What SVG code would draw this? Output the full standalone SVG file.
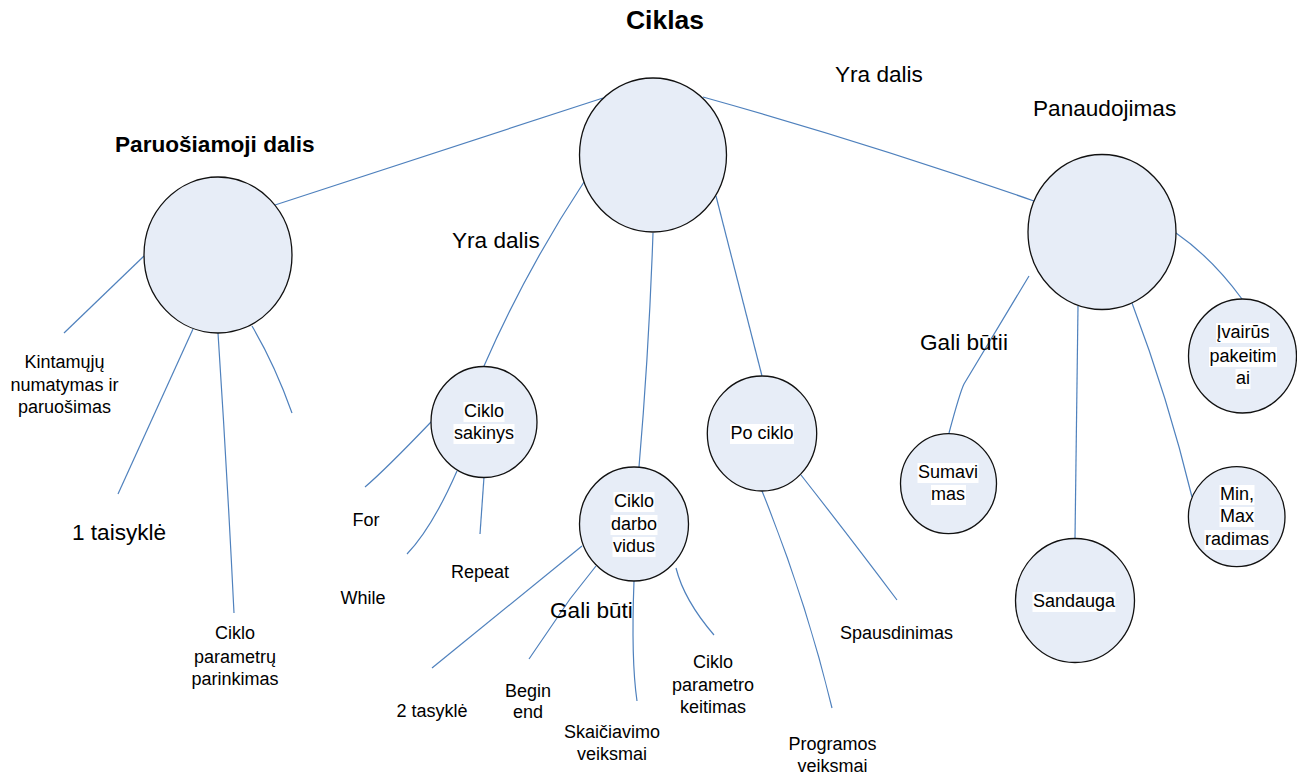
<svg xmlns="http://www.w3.org/2000/svg" width="1297" height="776" viewBox="0 0 1297 776">
<style>
.n{fill:#E7EDF7;stroke:#111;stroke-width:1.3}
.c{fill:none;stroke:#4F81BD;stroke-width:1.2}
text{font-family:"Liberation Sans",Arial,sans-serif;fill:#000}
.s{font-size:18px;text-anchor:middle}
.m{font-size:22.6px}
.b{font-weight:bold}
.hl{fill:#fff}
</style>
<rect width="1297" height="776" fill="#fff"/>
<g id="connectors">
<path class="c" d="M603,98 L275,205"/>
<path class="c" d="M703,97 Q868,143 1034,201"/>
<path class="c" d="M584,182 Q526,270 484,366"/>
<path class="c" d="M653,233 Q649,350 639,467"/>
<path class="c" d="M716,196 L762,376"/>
<path class="c" d="M144,256 L64,333"/>
<path class="c" d="M193,329 L118,494"/>
<path class="c" d="M218,333 Q227,470 234,613"/>
<path class="c" d="M252,326 Q275,365 292,413"/>
<path class="c" d="M431,422 Q385,470 365,487"/>
<path class="c" d="M457,471 Q432,528 407,554"/>
<path class="c" d="M484,477 L480,534"/>
<path class="c" d="M582,546 L432,668"/>
<path class="c" d="M596,566 L570,599 L529,659"/>
<path class="c" d="M634,581 Q631,660 637,701"/>
<path class="c" d="M676,568 Q684,600 714,635"/>
<path class="c" d="M762,491 Q806,600 832,708"/>
<path class="c" d="M801,475 Q852,540 897,600"/>
<path class="c" d="M1029,276 L964,384 Q960,392 949,433"/>
<path class="c" d="M1078,306 L1075,539"/>
<path class="c" d="M1132,303 Q1168,398 1192,497"/>
<path class="c" d="M1176,233 Q1212,258 1242,299"/>
</g>
<g id="title"><text class="b" x="665" y="29" font-size="26.5" text-anchor="middle">Ciklas</text></g>
<g id="labels">
<text class="m" x="835" y="82">Yra dalis</text>
<text class="m" x="1033" y="116">Panaudojimas</text>
<text class="m b" x="115" y="152">Paruošiamoji dalis</text>
<text class="m" x="452" y="248">Yra dalis</text>
<text class="m" x="920" y="350">Gali būtii</text>
<text class="m" x="550" y="618">Gali būti</text>
<text class="m" x="72" y="540">1 taisyklė</text>
<text class="s" x="64.5" y="368">Kintamųjų</text>
<text class="s" x="64.5" y="391">numatymas ir</text>
<text class="s" x="64.5" y="413">paruošimas</text>
<text class="s" x="235" y="639">Ciklo</text>
<text class="s" x="235" y="663">parametrų</text>
<text class="s" x="235" y="685">parinkimas</text>
<text class="s" x="366" y="526">For</text>
<text class="s" x="363" y="604">While</text>
<text class="s" x="480" y="578">Repeat</text>
<text class="s" x="432" y="717">2 tasyklė</text>
<text class="s" x="528" y="697">Begin</text>
<text class="s" x="528" y="718">end</text>
<text class="s" x="612" y="738">Skaičiavimo</text>
<text class="s" x="612" y="760">veiksmai</text>
<text class="s" x="713" y="668">Ciklo</text>
<text class="s" x="713" y="691">parametro</text>
<text class="s" x="713" y="713">keitimas</text>
<text class="s" x="832.5" y="750">Programos</text>
<text class="s" x="832.5" y="772">veiksmai</text>
<text class="s" x="896.5" y="639">Spausdinimas</text>
</g>
<g id="node-ciklas"><ellipse class="n" cx="653" cy="155" rx="73.5" ry="77"/></g>
<g id="node-paruosiamoji"><ellipse class="n" cx="218" cy="255" rx="74" ry="78"/></g>
<g id="node-panaudojimas"><ellipse class="n" cx="1102" cy="232" rx="74" ry="77.5"/></g>
<g id="node-ciklo-sakinys">
<ellipse class="n" cx="484" cy="422" rx="53" ry="55.5"/>
<rect class="hl" x="463.5" y="402" width="41" height="20"/>
<rect class="hl" x="453.5" y="424" width="61" height="20"/>
<text class="s" x="484" y="417">Ciklo</text>
<text class="s" x="484" y="439">sakinys</text>
</g>
<g id="node-ciklo-darbo-vidus">
<ellipse class="n" cx="634" cy="524" rx="54.5" ry="57"/>
<rect class="hl" x="613.5" y="492" width="41" height="20"/>
<rect class="hl" x="610.5" y="515" width="47" height="20"/>
<rect class="hl" x="612.5" y="537" width="43" height="20"/>
<text class="s" x="634" y="507">Ciklo</text>
<text class="s" x="634" y="530">darbo</text>
<text class="s" x="634" y="552">vidus</text>
</g>
<g id="node-po-ciklo">
<ellipse class="n" cx="762" cy="433.5" rx="54.7" ry="57.5"/>
<rect class="hl" x="730" y="424" width="64" height="20"/>
<text class="s" x="762" y="439">Po ciklo</text>
</g>
<g id="node-ivairus">
<ellipse class="n" cx="1242.5" cy="356" rx="54" ry="57"/>
<rect class="hl" x="1216" y="323" width="54" height="20"/>
<rect class="hl" x="1209" y="347" width="68" height="20"/>
<rect class="hl" x="1235.5" y="369" width="15" height="20"/>
<text class="s" x="1243" y="338">Įvairūs</text>
<text class="s" x="1243" y="362">pakeitim</text>
<text class="s" x="1243" y="384">ai</text>
</g>
<g id="node-sumavimas">
<ellipse class="n" cx="948.5" cy="483.7" rx="48" ry="50"/>
<rect class="hl" x="917.5" y="463" width="61" height="20"/>
<rect class="hl" x="931" y="485" width="35" height="20"/>
<text class="s" x="948" y="478">Sumavi</text>
<text class="s" x="948" y="500">mas</text>
</g>
<g id="node-minmax">
<ellipse class="n" cx="1236.7" cy="516.7" rx="48.3" ry="50"/>
<rect class="hl" x="1219.5" y="485" width="35" height="20"/>
<rect class="hl" x="1219.5" y="507" width="35" height="20"/>
<rect class="hl" x="1204.5" y="530" width="65" height="20"/>
<text class="s" x="1237" y="500">Min,</text>
<text class="s" x="1237" y="522">Max</text>
<text class="s" x="1237" y="545">radimas</text>
</g>
<g id="node-sandauga">
<ellipse class="n" cx="1075" cy="600.5" rx="59.5" ry="62"/>
<rect class="hl" x="1032.5" y="592" width="83" height="20"/>
<text class="s" x="1074" y="607">Sandauga</text>
</g>
</svg>
